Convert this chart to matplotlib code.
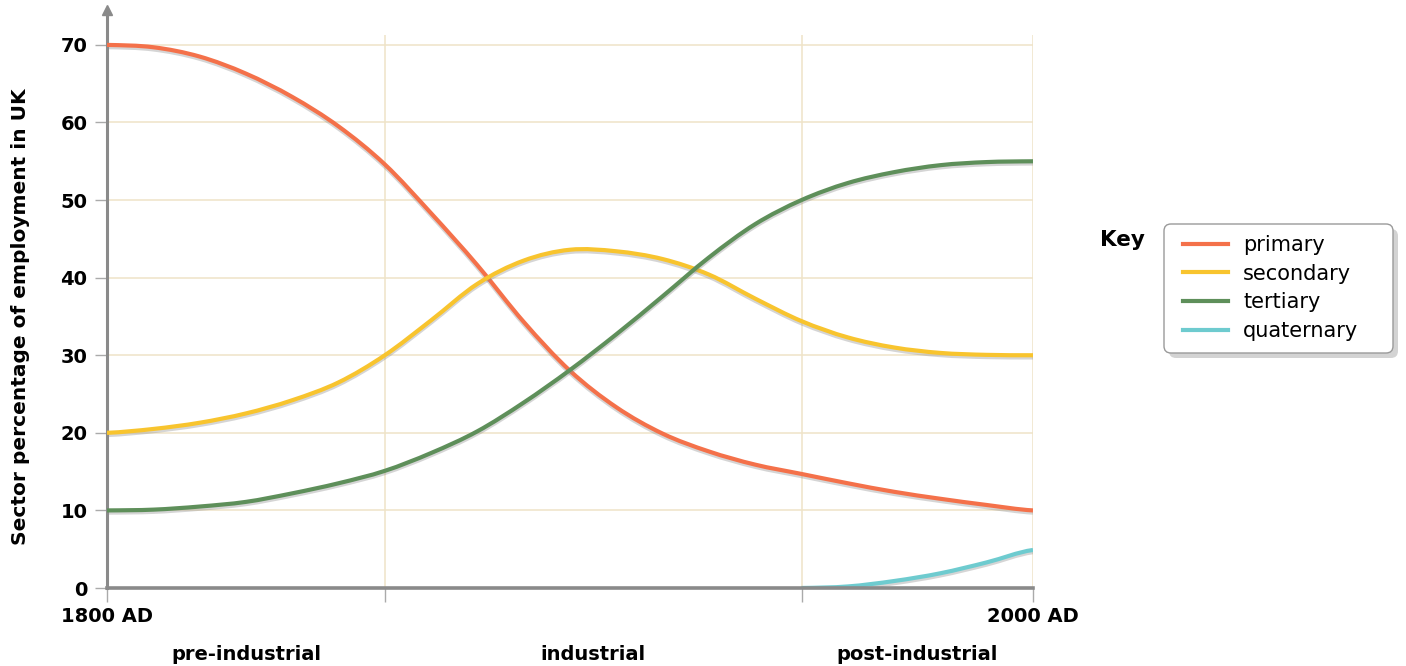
"""
UK employment by sector, 1800 AD to 2000 AD (Clark-Fisher style sketch).
Values read off the reference picture at 10-year steps.
"""
import numpy as np
import matplotlib
matplotlib.use("Agg")
import matplotlib.pyplot as plt
import matplotlib.patheffects as pe
from matplotlib.path import Path
from matplotlib.patches import PathPatch, FancyBboxPatch
from matplotlib.lines import Line2D
from matplotlib.transforms import IdentityTransform

plt.rcParams["font.family"] = ["DejaVu Sans"]

years = [1800, 1810, 1820, 1830, 1840, 1850, 1860, 1870, 1880, 1890, 1900,
         1910, 1920, 1930, 1940, 1950, 1960, 1970, 1980, 1990, 2000]

primary = [70, 69.7, 68.5, 66.3, 63.3, 59.5, 54.6, 48.3, 41.6, 34.3, 28,
           23.3, 19.9, 17.6, 15.9, 14.7, 13.5, 12.4, 11.5, 10.7, 10]
secondary = [20, 20.5, 21.3, 22.5, 24.2, 26.5, 30, 34.5, 39.2, 42.2, 43.6,
             43.4, 42.4, 40.4, 37.3, 34.4, 32.3, 31, 30.3, 30.05, 30]
tertiary = [10, 10.1, 10.5, 11.1, 12.2, 13.5, 15.1, 17.4, 20.2, 23.9, 28.1,
            32.7, 37.6, 42.6, 46.9, 50, 52.2, 53.6, 54.5, 54.9, 55]
quat_years = [1950, 1960, 1970, 1980, 1990, 2000]
quaternary = [0, 0.2, 0.9, 1.9, 3.3, 4.9]

phase_edges = [1800, 1860, 1950, 2000]
phase_names = ["pre-industrial", "industrial", "post-industrial"]
y_ticks = [0, 10, 20, 30, 40, 50, 60, 70]

colors = {"primary": "#F4714A", "secondary": "#F8C42E",
          "tertiary": "#5E8F5A", "quaternary": "#6ECBCF"}


def smooth_path(xs, ys):
    # cubic bezier through the read points (hermite tangents from neighbours)
    xs = np.asarray(xs, float)
    ys = np.asarray(ys, float)
    m = np.gradient(ys, xs)
    m[0] = (ys[1] - ys[0]) / (xs[1] - xs[0]) * 0.5
    m[-1] = (ys[-1] - ys[-2]) / (xs[-1] - xs[-2]) * 0.5
    verts = [(xs[0], ys[0])]
    codes = [Path.MOVETO]
    for i in range(len(xs) - 1):
        h = xs[i + 1] - xs[i]
        verts += [(xs[i] + h / 3, ys[i] + m[i] * h / 3),
                  (xs[i + 1] - h / 3, ys[i + 1] - m[i + 1] * h / 3),
                  (xs[i + 1], ys[i + 1])]
        codes += [Path.CURVE4] * 3
    return Path(verts, codes)


fig = plt.figure(figsize=(14.06, 6.66), dpi=100)
ax = fig.add_axes([107 / 1406, 1 - 588 / 666, (1033 - 107) / 1406, (588 - 10) / 666])

YTOP = 74.5
ax.set_xlim(1800, 2000)
ax.set_ylim(0, YTOP)

# grid: beige, horizontal every 10, vertical at phase boundaries
grid_c = "#EFE3C8"
for v in y_ticks[1:]:
    ax.axhline(v, color=grid_c, lw=1.1, zorder=0)
for e in phase_edges[1:]:
    ax.vlines(e, 0, 71.3, color=grid_c, lw=1.1, zorder=0)

shadow = [pe.SimpleLineShadow(offset=(0, -1.6), shadow_color="#888888", alpha=0.35),
          pe.Normal()]
series = [("primary", years, primary), ("secondary", years, secondary),
          ("tertiary", years, tertiary), ("quaternary", quat_years, quaternary)]
handles = []
for name, xs, ys in series:
    patch = PathPatch(smooth_path(xs, ys), fill=False, edgecolor=colors[name],
                      lw=3, capstyle="butt", zorder=3, path_effects=shadow)
    ax.add_patch(patch)
    handles.append(Line2D([], [], color=colors[name], lw=3, label=name))

# axes styling
for s in ["top", "right"]:
    ax.spines[s].set_visible(False)
ax.spines["left"].set_color("#8A8A8A")
ax.spines["left"].set_linewidth(2.2)
ax.spines["bottom"].set_color("#8A8A8A")
ax.spines["bottom"].set_linewidth(2.6)
ax.spines["bottom"].set_zorder(4)
ax.plot([1800], [YTOP], marker="^", color="#8A8A8A", ms=7, clip_on=False, zorder=5)

ax.set_yticks(y_ticks)
ax.set_yticklabels([str(v) for v in y_ticks], fontsize=14, fontweight="bold")
ax.tick_params(axis="y", length=9, width=1, color="#AAAAAA", pad=5)

ax.set_xticks(phase_edges)
ax.set_xticklabels(["1800 AD", "", "", "2000 AD"], fontsize=14, fontweight="bold")
ax.tick_params(axis="x", length=10, width=1, color="#AAAAAA", pad=4)

for a, b, name in zip(phase_edges[:-1], phase_edges[1:], phase_names):
    ax.text((a + b) / 2, -8.6, name, ha="center", va="center",
            fontsize=14, fontweight="bold")

ax.set_ylabel("Sector percentage of employment in UK", fontsize=14.5, fontweight="bold")
ax.yaxis.set_label_coords(-0.083, 35 / YTOP)

# key: frame drawn by hand (pixel coords) so the padding matches
fig.patches.append(FancyBboxPatch((1169, 666 - 358), 229, 129,
                                  boxstyle="round,pad=0,rounding_size=7",
                                  transform=IdentityTransform(), figure=fig,
                                  facecolor="#C9C9C9", edgecolor="none",
                                  alpha=0.8, zorder=-2))
fig.patches.append(FancyBboxPatch((1164, 666 - 353), 229, 129,
                                  boxstyle="round,pad=0,rounding_size=7",
                                  transform=IdentityTransform(), figure=fig,
                                  facecolor="white", edgecolor="#9A9A9A", lw=1.0,
                                  zorder=-1))
ax.legend(handles=handles, loc="upper left",
          bbox_to_anchor=(1183 / 1406, 1 - 235 / 666),
          bbox_transform=fig.transFigure, fontsize=15, frameon=False,
          handlelength=2.16, handletextpad=0.72, labelspacing=0.42,
          borderpad=0, borderaxespad=0)
fig.text(1100 / 1406, 1 - 240 / 666, "Key", fontsize=15.5, fontweight="bold",
         ha="left", va="center")

plt.savefig("out.png", dpi=100)
plt.close()
